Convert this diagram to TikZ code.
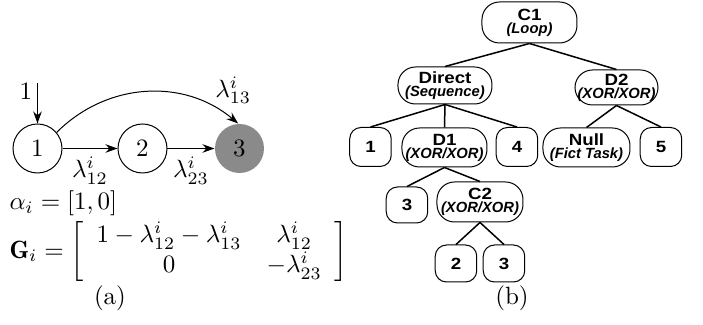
\documentclass[tikz,border=0pt]{standalone}
\usepackage{amsmath, amssymb}
\usepackage{fontspec}
\usepackage{tikz}
\usetikzlibrary{
  arrows.meta,
  positioning
}
\usepackage{xcolor}
\newfontfamily\treefont[FakeStretch=1.15]{Liberation Sans}
\newfontfamily\typefont{Liberation Sans}
\definecolor{stategray}{HTML}{8A8A8A}
\newcommand{\optype}[2]{#1\\[-1.8pt]{\typefont\bfseries\itshape\fontsize{5.9}{6}\selectfont #2}}
\tikzset{
  state/.style={
    circle, draw, line width=0.4pt, minimum size=19.6pt,
    inner sep=0pt, font=\normalsize
  },
  absorb/.style={state, draw=none, fill=stategray},
  trans/.style={-{Stealth[length=4.8pt, width=3.4pt]}, line width=0.4pt},
  block/.style={
    rectangle, draw, rounded corners=7pt, line width=0.4pt,
    align=center, inner sep=0.5pt,
    font=\treefont\bfseries\fontsize{6.5}{7}\selectfont
  },
  leaf/.style={
    block, rounded corners=4.5pt, minimum width=16.6pt, minimum height=15.6pt
  },
  link/.style={line width=0.6pt},
}

\begin{document}
\begin{tikzpicture}[x=0.4pt, y=-0.4pt]
\useasboundingbox (0,0) rectangle (703,325);

% (a) absorbing chain
\node[state] (s1) at (37.5,148.5) {1};
\node[state] (s2) at (142.5,148.5) {2};
\node[absorb] (s3) at (239.5,148.5) {3};
\coordinate (init) at (37.5,83);

\draw[trans] (init) -- node[pos=0.2, left, inner sep=2pt]{1} (s1);
\draw[trans] (s1) -- node[below]{$\lambda_{12}^{i}$} (s2);
\draw[trans] (s2) -- node[below]{$\lambda_{23}^{i}$} (s3);
\draw[trans] (s1.40) to[out=45, in=140] node[pos=0.85, above right, inner sep=1pt]{$\lambda_{13}^{i}$} (s3.93);

\node[anchor=base west, inner sep=0pt] (alpha) at (9,210) {$\alpha_i = [1,0]$};
\node[anchor=west, inner sep=0pt] (gen) at (9,252) {$\mathbf{G}_i = \left[\begin{array}{c@{\hspace{10pt}}c}
  1-\lambda_{12}^{i}-\lambda_{13}^{i} & \lambda_{12}^{i} \\
  0 & -\lambda_{23}^{i}
\end{array}\right]$};
\node[anchor=base] (capa) at (110,305) {(a)};

% (b) process tree
\node[block, minimum width=38pt, minimum height=16.4pt] (c1) at (529.5,22.5) {\optype{C1}{(Loop)}};
\node[block, minimum width=37.6pt, minimum height=14.8pt] (direct) at (445,85.5) {\optype{Direct}{(Sequence)}};
\node[block, minimum width=33.2pt, minimum height=14pt] (d2) at (616.5,87.5) {\optype{D2}{(XOR/XOR)}};
\node[leaf] (n1) at (370.5,147) {1};
\node[block, minimum width=34pt, minimum height=15.6pt] (d1) at (444.5,147.5) {\optype{D1}{(XOR/XOR)}};
\node[leaf] (n4) at (517,147) {4};
\node[block, minimum width=34.8pt, minimum height=15.6pt] (null) at (586.5,147.5) {\optype{Null}{(Fict Task)}};
\node[leaf] (n5) at (661,147) {5};
\node[leaf, minimum height=14.4pt] (n3a) at (407,205) {3};
\node[block, minimum width=34.4pt, minimum height=16pt] (c2) at (480,202) {\optype{C2}{(XOR/XOR)}};
\node[leaf, minimum height=14.8pt] (n2) at (456,263.5) {2};
\node[leaf, minimum height=14.8pt] (n3b) at (504,263.5) {3};

\draw[link] (c1.south) -- (direct.north);
\draw[link] (c1.south) -- (d2.north);
\draw[link] (direct.south) -- (n1.north);
\draw[link] (direct.south) -- (d1.north);
\draw[link] (direct.south) -- (n4.north);
\draw[link] (d2.south) -- (null.north);
\draw[link] (d2.south) -- (n5.north);
\draw[link] (d1.south) -- (n3a.north);
\draw[link] (d1.south) -- (c2.north);
\draw[link] (c2.south) -- (n2.north);
\draw[link] (c2.south) -- (n3b.north);

\node[anchor=base] (capb) at (512,305) {(b)};
\end{tikzpicture}
\end{document}
